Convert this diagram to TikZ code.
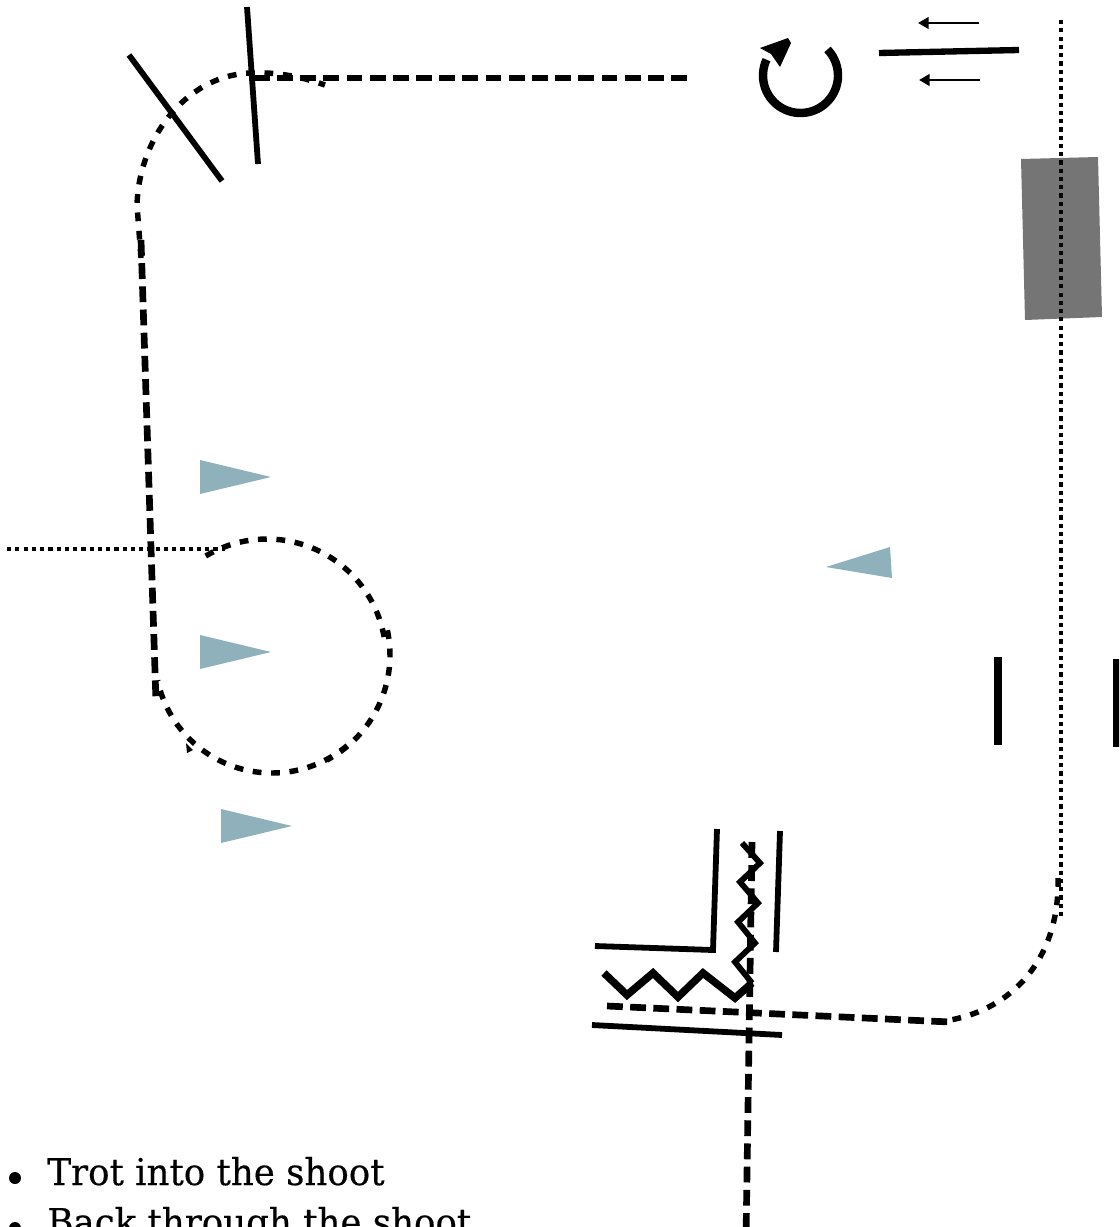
\documentclass[tikz,border=0pt]{standalone}
\usepackage{fontspec}
\usetikzlibrary{arrows.meta}
\newfontfamily\listfont[FakeStretch=0.965,FakeBold=0.4]{DejaVu Serif}
\definecolor{markerblue}{HTML}{8FB1BC}
\definecolor{blockgray}{HTML}{757575}
\tikzset{
  wall/.style={line width=3.3pt},
  longdash/.style={line width=3.8pt, dash pattern=on 9pt off 4.2pt},
  shortdash/.style={line width=3.1pt, dash pattern=on 5pt off 5.5pt},
  dotline/.style={line width=2.5pt, dash pattern=on 2.4pt off 2.3pt},
  marker/.style={fill=markerblue},
  smallarrow/.style={line width=1.5pt, -{Triangle[length=6pt,width=6.5pt]}},
  listitem/.style={anchor=base west, inner sep=0pt, font=\listfont\fontsize{21}{25}\selectfont}
}
\begin{document}
\begin{tikzpicture}[x=0.02cm, y=-0.02cm]
    \useasboundingbox (0,0) rectangle (1119,1227);
    \clip (0,0) rectangle (1119,1227);

    % Bloque gris y linea punteada
    \fill[blockgray] (1021,159) -- (1098,157) -- (1102,317) -- (1025,320) -- cycle;
    \draw[dotline] (1061,20) -- (1061,920);
    \draw[dotline] (7,549) -- (225,549);

    % Barreras arriba
    \draw[wall] (129,55) -- (222,181);
    \draw[wall] (247,7) -- (258,164);

    % Recorrido izquierdo
    \draw[longdash] (687,78) -- (255,78);
    \draw[shortdash] (141,258) -- (137,205) .. controls (139,135) and (190,72) .. (255,73) .. controls (280,72) and (305,78) .. (325,85);
    \draw[longdash] (141,240) -- (156,702);

    % Circulo
    \draw[shortdash] plot[domain=121:8, samples=40] ({267+119*cos(\x)},{658-119*sin(\x)});
    \draw[shortdash] plot[domain=12:-62, samples=30] ({271+119*cos(\x)},{655-119*sin(\x)});
    \draw[shortdash] plot[domain=-50:-168, samples=50] ({272+117*cos(\x)},{656-117*sin(\x)});
    \fill (186,743) -- (193,750) -- (187,753) -- cycle;

    % Marcas azules
    \fill[marker] (200,460) -- (271,477) -- (200,494) -- cycle;
    \fill[marker] (200,635) -- (271,652) -- (200,669) -- cycle;
    \fill[marker] (221,809) -- (292,826) -- (221,843) -- cycle;
    \fill[marker] (826,567) -- (890,547) -- (892,578) -- cycle;

    % Giro y flechas
    \draw[line width=4.8pt] plot[domain=44:-205, samples=50] ({800.5+37.5*cos(\x)},{75.5-37.5*sin(\x)});
    \fill (760,48) -- (788,38) -- (791,43) -- (780,67) -- (771,54) -- cycle;
    \draw[line width=3.6pt] (879,53) -- (1019,50);
    \draw[smallarrow] (979,23) -- (918,23);
    \draw[smallarrow] (980,80) -- (919,80);

    % Barras derecha
    \draw[line width=4.2pt] (998,657) -- (998,745);
    \draw[line width=4.2pt] (1117,659) -- (1117,747);

    % Curva abajo derecha
    \draw[shortdash] (1058,878) .. controls (1060,960) and (1010,1015) .. (936,1022);

    % Pasillo abajo
    \draw[wall] (717,829) -- (713,950) -- (595,946);
    \draw[wall] (780,831) -- (776,952);
    \draw[wall] (592,1025) -- (782,1035);
    \draw[longdash] (607,1006) -- (950,1022);
    \draw[longdash] (752,842) -- (746,1240);
    \draw[line width=3.3pt] (742,843) -- (760,863) -- (740,882) -- (758,903) -- (738,922) -- (755,943) -- (735,962) -- (752,983);
    \draw[line width=4.3pt] (752,983) -- (735,998) -- (703,973) -- (678,997) -- (653,973) -- (627,995) -- (604,973);

    % Lista
    \fill (15,1178) circle (6);
    \fill (15,1228) circle (6);
    \node[listitem] (trot) at (47,1185) {Trot into the shoot};
    \node[listitem] (back) at (47,1235) {Back through the shoot};
\end{tikzpicture}
\end{document}
